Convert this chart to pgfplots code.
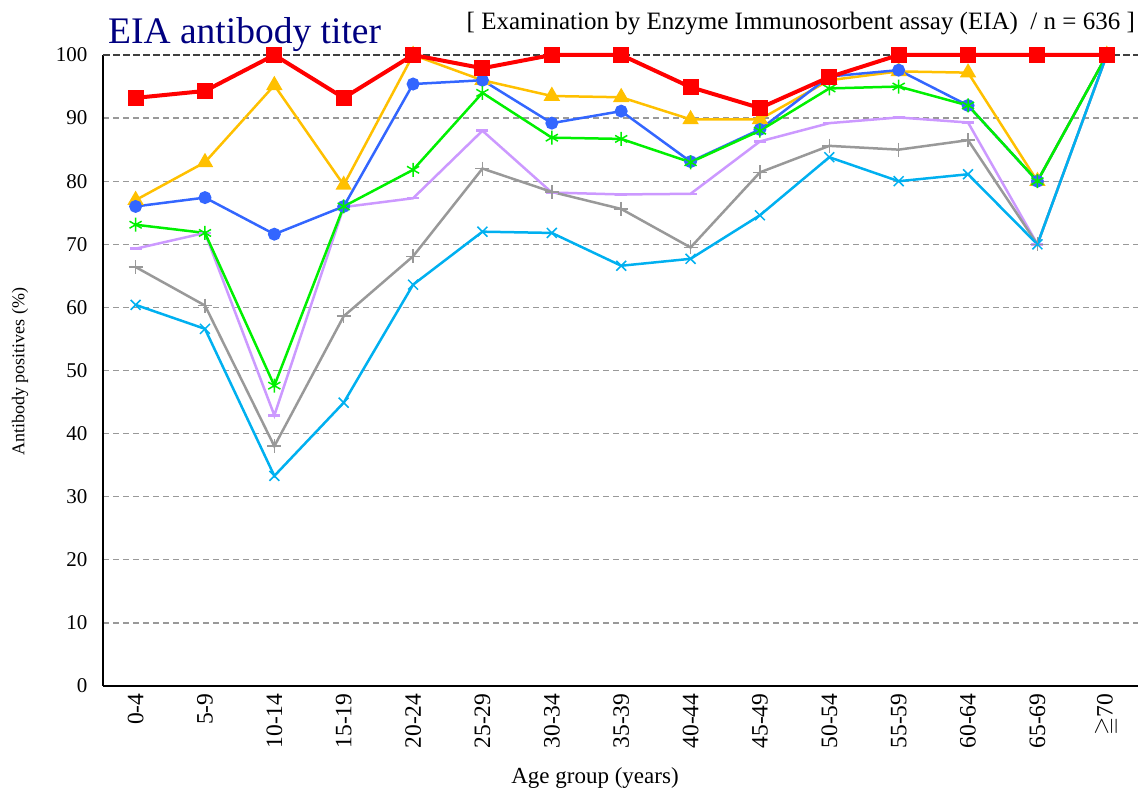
\documentclass[border=0pt]{standalone}
\usepackage{pgfplots}
\pgfplotsset{compat=1.18}
\usepackage{amssymb}
\usepackage{fontspec}
\setmainfont{Liberation Serif}
\definecolor{cRed}{HTML}{FF0000}
\definecolor{cYel}{HTML}{FFC000}
\definecolor{cBlu}{HTML}{3366FF}
\definecolor{cGrn}{HTML}{00F000}
\definecolor{cPur}{HTML}{CC99FF}
\definecolor{cGry}{HTML}{999999}
\definecolor{cCya}{HTML}{00B0F0}
\definecolor{cNavy}{HTML}{000080}
\begin{document}
\begin{tikzpicture}
\begin{axis}[
  at={(103pt,106pt)}, anchor=south west,
  scale only axis, width=1035pt, height=631pt,
  xmin=-0.47, xmax=14.45, ymin=0, ymax=100,
  clip=false,
  axis x line*=bottom, axis y line*=left,
  axis line style={line width=1.4pt, -, black},
  xtick={0,...,14},
  xticklabels={0-4,5-9,10-14,15-19,20-24,25-29,30-34,35-39,40-44,45-49,50-54,55-59,60-64,65-69,{$\geqq$70}},
  ytick={0,10,...,90},
  extra y ticks={100},
  extra y tick style={major grid style={color=black!75, dash pattern=on 7pt off 3pt, line width=1.6pt}},
  ymajorgrids,
  major grid style={color=black!40, dash pattern=on 6pt off 4pt, line width=1.3pt},
  major tick length=0pt,
  /pgf/number format/assume math mode=true,
  yticklabel style={font=\fontsize{21}{21}\selectfont, xshift=-12pt},
  xticklabel style={rotate=90, anchor=east, font=\fontsize{23.5}{23.5}\selectfont, xshift=-4pt},
]
\addplot[color=cPur, line width=2.5pt, mark=-, mark size=6pt, mark options={line width=2.5pt}] coordinates {
(0,69.3)(1,71.8)(2,42.9)(3,75.9)(4,77.3)(5,88)(6,78.2)(7,77.9)(8,78)(9,86.3)(10,89.2)(11,90.1)(12,89.3)(13,70)(14,100)};
\addplot[color=cGry, line width=2.5pt, mark=+, mark size=7pt, mark options={line width=1.5pt}] coordinates {
(0,66.4)(1,60.3)(2,38)(3,58.6)(4,68.1)(5,82)(6,78.3)(7,75.6)(8,69.5)(9,81.4)(10,85.6)(11,85)(12,86.5)(13,70)(14,100)};
\addplot[color=cYel, line width=2.5pt, mark=triangle*, mark size=7pt] coordinates {
(0,77)(1,83)(2,95.2)(3,79.4)(4,100)(5,96)(6,93.5)(7,93.3)(8,89.8)(9,89.8)(10,96)(11,97.4)(12,97.2)(13,80)(14,100)};
\addplot[color=cBlu, line width=2.5pt, mark=*, mark size=5.2pt] coordinates {
(0,76)(1,77.4)(2,71.6)(3,76)(4,95.4)(5,96)(6,89.2)(7,91.1)(8,83.1)(9,88.2)(10,96.6)(11,97.6)(12,92)(13,80)(14,100)};
\addplot[color=cGrn, line width=2.5pt, mark=asterisk, mark size=7pt, mark options={line width=1.5pt}] coordinates {
(0,73.1)(1,71.8)(2,47.6)(3,76)(4,81.8)(5,94)(6,86.9)(7,86.7)(8,83)(9,88)(10,94.7)(11,95)(12,92)(13,80)(14,100)};
\addplot[color=cCya, line width=2.5pt, mark=x, mark size=7pt, mark options={line width=1.5pt}] coordinates {
(0,60.4)(1,56.6)(2,33.3)(3,44.9)(4,63.6)(5,72)(6,71.8)(7,66.6)(8,67.7)(9,74.6)(10,83.8)(11,80)(12,81.1)(13,70)(14,100)};
\addplot[color=cRed, line width=4pt, mark=square*, mark size=6pt] coordinates {
(0,93.2)(1,94.3)(2,100)(3,93.2)(4,100)(5,97.9)(6,100)(7,100)(8,94.9)(9,91.6)(10,96.5)(11,100)(12,100)(13,100)(14,100)};
\end{axis}
\node[anchor=base west, text=cNavy, font=\fontsize{37.5}{37.5}\selectfont, inner sep=0pt] at (108pt,748pt) {EIA antibody titer};
\node[anchor=base east, font=\fontsize{25}{25}\selectfont, inner sep=0pt] at (1135pt,762pt) {[ Examination by Enzyme Immunosorbent assay (EIA) \ / n = 636 ]};
\node[rotate=90, font=\fontsize{18}{18}\selectfont] at (20pt,420pt) {Antibody positives (\%)};
\node[font=\fontsize{23}{23}\selectfont] at (595pt,14pt) {Age group (years)};
\pgfresetboundingbox
\useasboundingbox (0,0) rectangle (1138pt,792pt);
\end{tikzpicture}
\end{document}
